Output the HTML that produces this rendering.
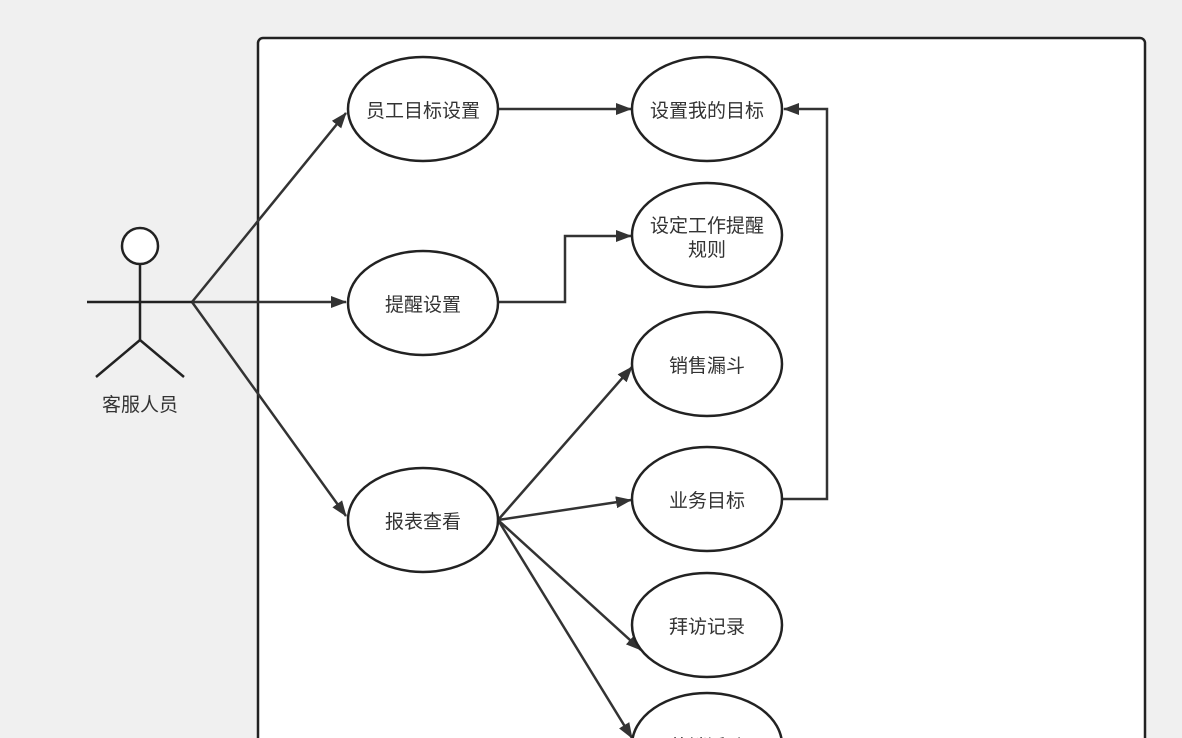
<!DOCTYPE html>
<html><head><meta charset="utf-8"><style>
html,body{margin:0;padding:0;background:#f0f0f0;width:1182px;height:738px;overflow:hidden;}
svg{display:block;font-family:"Liberation Sans","Noto Sans CJK SC",sans-serif;}
</style></head><body>
<svg width="1182" height="738" viewBox="0 0 1182 738" xmlns="http://www.w3.org/2000/svg">
<defs><marker id="a" markerWidth="16" markerHeight="12" refX="15" refY="6" orient="auto" markerUnits="userSpaceOnUse"><path d="M0,0 L16,6 L0,12 Z" fill="#333"/></marker></defs>
<rect x="258" y="38" width="887" height="720" rx="5" fill="#fff" stroke="#222" stroke-width="2.5"/>
<g stroke="#333" stroke-width="2.5" fill="none">
<line x1="192" y1="302" x2="346" y2="113" marker-end="url(#a)"/>
<line x1="192" y1="302" x2="346" y2="302" marker-end="url(#a)"/>
<line x1="192" y1="302" x2="346" y2="516" marker-end="url(#a)"/>
<line x1="498" y1="109" x2="631" y2="109" marker-end="url(#a)"/>
<polyline points="498,302 565,302 565,236 631,236" marker-end="url(#a)"/>
<line x1="498" y1="520" x2="632" y2="367" marker-end="url(#a)"/>
<line x1="498" y1="520" x2="631" y2="500" marker-end="url(#a)"/>
<line x1="498" y1="520" x2="641" y2="650" marker-end="url(#a)"/>
<line x1="498" y1="520" x2="632" y2="738" marker-end="url(#a)"/>
<polyline points="783,499 827,499 827,109 784,109" marker-end="url(#a)"/>
</g>
<g stroke="#222" stroke-width="2.5" fill="#fff">
<ellipse cx="423" cy="109" rx="75" ry="52"/>
<ellipse cx="423" cy="303" rx="75" ry="52"/>
<ellipse cx="423" cy="520" rx="75" ry="52"/>
<ellipse cx="707" cy="109" rx="75" ry="52"/>
<ellipse cx="707" cy="235" rx="75" ry="52"/>
<ellipse cx="707" cy="364" rx="75" ry="52"/>
<ellipse cx="707" cy="499" rx="75" ry="52"/>
<ellipse cx="707" cy="625" rx="75" ry="52"/>
<ellipse cx="707" cy="745" rx="75" ry="52"/>
</g>
<g stroke="#222" stroke-width="2.5" fill="none">
<circle cx="140" cy="246" r="18" fill="#fff"/>
<line x1="140" y1="264" x2="140" y2="340"/>
<line x1="87" y1="302" x2="192" y2="302"/>
<polyline points="96,377 140,340 184,377"/>
</g>
<g font-size="19" fill="#333" text-anchor="middle">
<text x="140" y="411">客服人员</text>
<text x="423" y="117">员工目标设置</text>
<text x="423" y="311">提醒设置</text>
<text x="423" y="528">报表查看</text>
<text x="707" y="117">设置我的目标</text>
<text x="707" y="232">设定工作提醒</text>
<text x="707" y="256">规则</text>
<text x="707" y="372">销售漏斗</text>
<text x="707" y="507">业务目标</text>
<text x="707" y="633">拜访记录</text>
<text x="707" y="753">营销活动</text>
</g>
</svg>
</body></html>
